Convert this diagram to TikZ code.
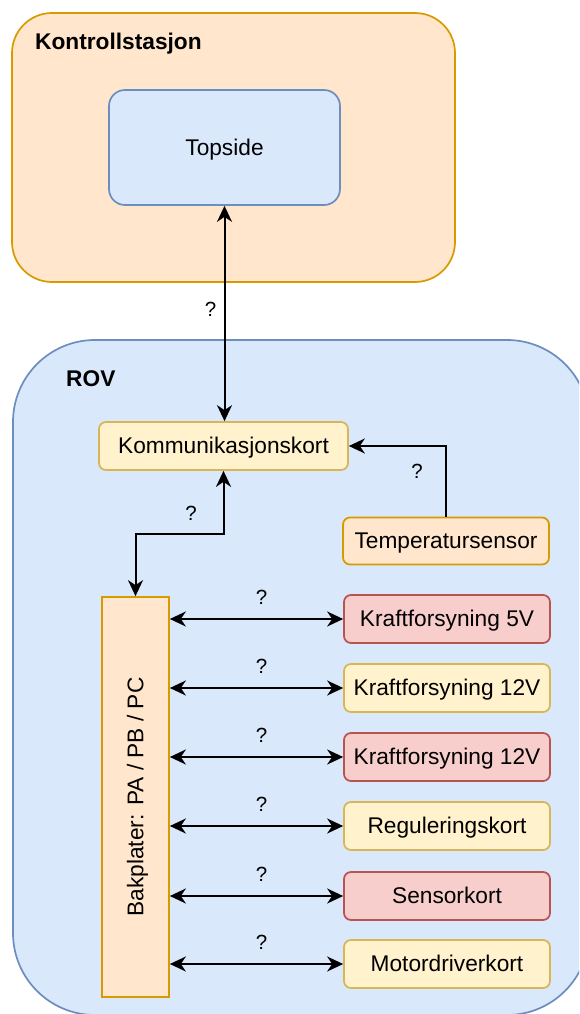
\documentclass[tikz,border=0pt]{standalone}
\usepackage{fontspec}
\setmainfont{Liberation Sans}
\usetikzlibrary{arrows.meta}

\definecolor{orangefill}{HTML}{FFE6CC}
\definecolor{orangeline}{HTML}{D79B00}
\definecolor{bluefill}{HTML}{DAE8FC}
\definecolor{blueline}{HTML}{6C8EBF}
\definecolor{yellowfill}{HTML}{FFF2CC}
\definecolor{yellowline}{HTML}{D6B656}
\definecolor{redfill}{HTML}{F8CECC}
\definecolor{redline}{HTML}{B85450}

\begin{document}
\begin{tikzpicture}[x=1pt,y=-1pt,
	box/.style={rectangle,line width=1.7pt,inner sep=0pt,
		font=\fontsize{22.7}{27}\selectfont,text height=19.3pt,text depth=3.6pt},
	orangebox/.style={box,fill=orangefill,draw=orangeline},
	bluebox/.style={box,fill=bluefill,draw=blueline},
	yellowbox/.style={box,fill=yellowfill,draw=yellowline},
	redbox/.style={box,fill=redfill,draw=redline},
	card/.style={minimum width=206pt,minimum height=48pt,rounded corners=7pt},
	title/.style={anchor=base west,inner sep=0pt,font=\fontsize{22.7}{27}\selectfont\bfseries},
	qmark/.style={inner sep=0pt,font=\fontsize{20.5}{24}\selectfont},
	link/.style={line width=2pt,>={Stealth[length=16pt,width=15pt,inset=5pt]}}]
	\useasboundingbox (0,0) rectangle (579,1014);
	\clip (0,0) rectangle (579,1014);

	% the two containers
	\node[orangebox,minimum width=443pt,minimum height=269pt,rounded corners=40pt] (ctrl) at (233.5,147.5) {};
	\node[title] (ctrltitle) at (35,50) {Kontrollstasjon};
	\node[bluebox,minimum width=576pt,minimum height=675pt,rounded corners=82pt] (rov) at (301,677.5) {};
	\node[title] (rovtitle) at (66,386) {ROV};

	\node[bluebox,minimum width=231pt,minimum height=115pt,rounded corners=16pt] (topside) at (224.5,147.5) {Topside};
	\node[yellowbox,minimum width=249pt,minimum height=48pt,rounded corners=7pt] (komm) at (223.5,446) {Kommunikasjonskort};
	\node[orangebox,card,minimum height=47pt] (temp) at (446,541) {Temperatursensor};
	\node[orangebox,minimum width=67pt,minimum height=400pt] (bak) at (135.5,797) {};
	\node[box,rotate=90] (baktext) at (bak.center) {Bakplater: PA / PB / PC};

	% kortene i bakplaten
	\node[redbox,card] (kraft5) at (447,619) {Kraftforsyning 5V};
	\node[yellowbox,card] (kraft12a) at (447,688) {Kraftforsyning 12V};
	\node[redbox,card] (kraft12b) at (447,757) {Kraftforsyning 12V};
	\node[yellowbox,card] (regul) at (447,826) {Reguleringskort};
	\node[redbox,card] (sensor) at (447,896) {Sensorkort};
	\node[yellowbox,card] (motor) at (447,964) {Motordriverkort};

	\draw[link,<->] (topside.south) -- (topside.south |- komm.north)
		node[qmark,midway,xshift=-14pt,yshift=4pt] {?};
	\coordinate (knekk) at (180,534);
	\draw[link,<->] (bak.north) |- (knekk) -| (komm.south);
	\node[qmark] (qkomm) at (191,513) {?};
	\draw[link,->] (temp.north) |- (komm.east);
	\node[qmark] (qtemp) at (417,471) {?};

	\foreach \kort in {kraft5,kraft12a,kraft12b,regul,sensor,motor}
		\draw[link,<->] (bak.east |- \kort.west) -- (\kort.west)
			node[qmark,midway,xshift=5pt,yshift=22pt] {?};
\end{tikzpicture}
\end{document}
